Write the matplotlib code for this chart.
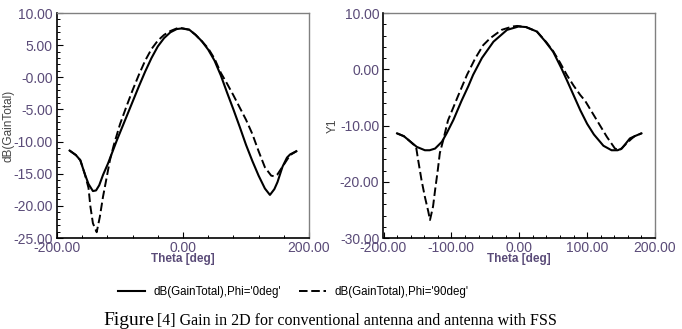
import matplotlib
matplotlib.use('Agg')
from matplotlib import pyplot as plt
from matplotlib.ticker import MultipleLocator, FixedLocator

# left panel: conventional antenna
theta_l0 = [-180, -170, -163, -156, -150, -143, -138, -133, -127, -119, -112, -105,
            -100, -90, -80, -70, -60, -50, -40, -30, -20, -10, -2, 10, 20, 30, 40,
            50, 60, 70, 80, 90, 100, 110, 120, 130, 138, 145, 150, 158, 165, 170, 180]
gain_l0 = [-11.4, -12.1, -12.9, -15.0, -16.6, -17.7, -17.6, -16.8, -15.2, -13.4, -11.6, -9.8,
           -8.6, -6.2, -3.8, -1.4, 0.9, 3.0, 4.8, 6.1, 7.0, 7.5, 7.6, 7.4, 6.6, 5.6, 4.3,
           2.6, 0.3, -2.4, -5.0, -7.7, -10.5, -13.0, -15.3, -17.3, -18.3, -17.4, -16.3,
           -13.9, -12.5, -12.0, -11.5]
theta_l90 = [-180, -170, -163, -156, -150, -147, -143, -137, -132, -127, -121, -116, -110,
             -100, -90, -80, -70, -60, -50, -40, -30, -20, -10, -4, 0, 10, 20, 30, 40,
             50, 60, 70, 80, 90, 100, 110, 120, 130, 140, 145, 150, 160, 170, 180]
gain_l90 = [-11.4, -12.1, -12.9, -15.0, -17.2, -20.1, -22.7, -24.1, -21.7, -18.6, -15.5,
            -12.9, -10.6, -7.3, -4.6, -2.0, 0.4, 2.6, 4.4, 5.7, 6.6, 7.2, 7.6, 7.65, 7.6,
            7.4, 6.6, 5.6, 4.5, 2.9, 0.7, -1.0, -2.8, -4.7, -6.6, -8.8, -11.5, -14.0,
            -15.3, -15.4, -15.1, -13.6, -12.1, -11.5]

# right panel: antenna with FSS
theta_r0 = [-180, -170, -163, -151, -139, -132, -124, -114, -107, -97, -85, -75, -68,
            -55, -38, -18, -1, 10, 26, 38, 50, 62, 70, 80, 90, 100, 110, 124, 136, 145,
            151, 163, 170, 180]
gain_r0 = [-11.4, -11.9, -12.6, -13.8, -14.4, -14.4, -14.1, -12.9, -11.4, -9.0, -5.6, -3.0,
           -1.0, 2.0, 4.9, 7.0, 7.6, 7.5, 6.7, 5.0, 3.1, 0.2, -1.9, -4.6, -7.3, -9.7,
           -11.6, -13.6, -14.4, -14.4, -14.1, -12.3, -11.9, -11.4]
theta_r90 = [-180, -170, -163, -152, -149, -144, -139, -134, -131.5, -127, -124, -120, -117,
             -112, -105, -90, -77, -65, -53, -43, -26, -10, -3, 10, 26, 40, 50, 60, 70,
             80, 90, 97, 105, 114, 121, 129, 141, 148, 158, 165, 170, 180]
gain_r90 = [-11.4, -11.9, -12.6, -13.8, -16.1, -19.7, -22.7, -25.3, -26.8, -24.4, -21.5,
            -17.9, -14.9, -12.6, -9.1, -4.7, -1.0, 1.9, 4.3, 5.5, 7.0, 7.6, 7.7, 7.5, 6.7,
            4.8, 3.2, 1.2, -1.0, -2.9, -4.6, -5.6, -7.2, -9.0, -10.4, -12.0, -14.1, -14.4,
            -13.2, -12.4, -11.9, -11.4]

labels = ["dB(GainTotal),Phi='0deg'", "dB(GainTotal),Phi='90deg'"]
yt_left = [-25, -20, -15, -10, -5, 0, 5, 10]
yt_left_labels = ['-25.00', '-20.00', '-15.00', '-10.00', '-5.00', '-0.00', '5.00', '10.00']
yt_right = [-30, -20, -10, 0, 10]
xt_left = [-200, 0, 200]
xt_right = [-200, -100, 0, 100, 200]

tick_col = '#5a4b78'
dash = (0, (4.4, 1.9))

W, H = 682, 329
fig = plt.figure(figsize=(W / 100, H / 100), dpi=100)
ax1 = fig.add_axes([57 / W, 1 - 238 / H, 252 / W, 225 / H])
ax2 = fig.add_axes([383.5 / W, 1 - 238 / H, 271.5 / W, 225 / H])


def style(ax, xt, yt, ylabels, xminor, yminor, ylim):
    ax.set_xlim(-200, 200)
    ax.set_ylim(*ylim)
    ax.xaxis.set_major_locator(FixedLocator(xt))
    ax.set_xticklabels(['%.2f' % v for v in xt])
    ax.xaxis.set_minor_locator(MultipleLocator(xminor))
    ax.yaxis.set_major_locator(FixedLocator(yt))
    ax.set_yticklabels(ylabels)
    ax.yaxis.set_minor_locator(MultipleLocator(yminor))
    ax.tick_params(which='both', direction='in', top=False, right=False,
                   colors='black', labelcolor=tick_col, labelsize=10, pad=3)
    ax.tick_params(axis='x', pad=2)
    ax.tick_params(which='major', length=4, width=0.8)
    ax.tick_params(which='minor', length=2, width=0.7)
    for lab in ax.get_xticklabels() + ax.get_yticklabels():
        lab.set_family('Liberation Sans')
    for s in ['left', 'bottom']:
        ax.spines[s].set_color('black')
        ax.spines[s].set_linewidth(1.2)
    for s in ['top', 'right']:
        ax.spines[s].set_color('#808080')
        ax.spines[s].set_linewidth(1.0)
    ax.set_xlabel('Theta [deg]', family='Liberation Sans', fontsize=8.5,
                  fontweight='bold', color=tick_col, labelpad=-1)


l1, = ax1.plot(theta_l0, gain_l0, color='black', lw=1.5)
l2, = ax1.plot(theta_l90, gain_l90, color='black', lw=1.4, linestyle=dash)
ax2.plot(theta_r0, gain_r0, color='black', lw=1.5)
ax2.plot(theta_r90, gain_r90, color='black', lw=1.4, linestyle=dash)

style(ax1, xt_left, yt_left, yt_left_labels, 40, 1, (-25, 10))
style(ax2, xt_right, yt_right, ['%.2f' % v for v in yt_right], 20, 2, (-30, 10))

ax1.set_ylabel('dB(GainTotal)', family='Liberation Sans', fontsize=8.5, color='#444444')
ax1.yaxis.set_label_coords(-(57 - 15) / 252, 0.5)
ax2.set_ylabel('Y1', family='Liberation Sans', fontsize=8.5, color='#444444')
ax2.yaxis.set_label_coords(-(383.5 - 339) / 271.5, 0.5)

fig.legend([l1, l2], labels, loc='center left', bbox_to_anchor=(118 / W, 1 - 292 / H),
           ncol=2, frameon=False, borderpad=0, borderaxespad=0,
           handlelength=2.35, handletextpad=0.7, columnspacing=1.6,
           prop={'family': 'Liberation Sans', 'size': 8.3})

fig.text(103 / W, 1 - 325 / H, 'Figure', family='Liberation Serif', fontsize=14,
         va='baseline')
fig.text(157 / W, 1 - 325 / H, '[4] Gain in 2D for conventional antenna and antenna with FSS',
         family='Liberation Serif', fontsize=11.5, va='baseline')

fig.savefig('out.png', dpi=100)
